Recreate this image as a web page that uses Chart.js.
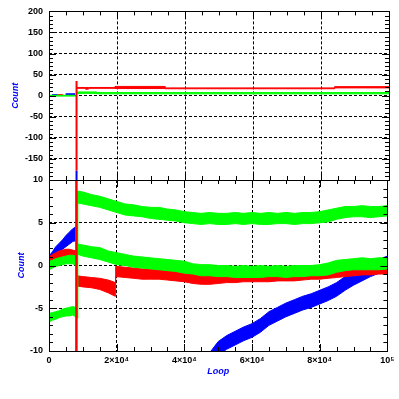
<!DOCTYPE html>
<html>
<head>
<meta charset="utf-8">
<script src="https://cdn.jsdelivr.net/npm/chart.js@4.4.1/dist/chart.umd.min.js"></script>
<style>
  html, body { margin: 0; padding: 0; background: #fff; }
  #wrap { position: relative; width: 399px; height: 399px; }
  canvas { position: absolute; left: 0; top: 0; }
</style>
</head>
<body>
<div id="wrap">
  <canvas id="bottomCanvas" width="399" height="399"></canvas>
  <canvas id="topCanvas" width="399" height="399"></canvas>
</div>
<script>
// x axis
const xTickLabels = ['0', '2×10⁴', '4×10⁴', '6×10⁴', '8×10⁴', '10⁵'];

// ---- top panel (Count, -200..200) ----
const blueTopAX = [900, 2600];
const blueTopALo = [0.5, 0.5];
const blueTopAHi = [2.5, 2.5];
const blueTopBX = [4900, 7700];
const blueTopBLo = [2.5, 2.5];
const blueTopBHi = [4.5, 4.5];
const redTopPreX = [2600, 4200];
const redTopPreLo = [0.5, 0.5];
const redTopPreHi = [2.5, 2.5];
const redTopX = [8200, 10800, 10801, 11600, 11601, 19400, 19401, 34100, 34101, 84000, 84001, 100000];
const redTopLo = [17.5, 17.5, 15.5, 15.5, 17.5, 17.5, 17, 17, 16.5, 16.5, 18.5, 18.5];
const redTopHi = [19.5, 19.5, 19.5, 19.5, 19.5, 19.5, 22, 22, 18.5, 18.5, 21.5, 21.5];
const greenTopPreX = [0, 7900];
const greenTopPreLo = [-1, -1];
const greenTopPreHi = [1, 1];
const greenTopPostX = [8200, 14000, 14001, 100000];
const greenTopPostLo = [5.5, 5.5, 4.5, 4.5];
const greenTopPostHi = [9, 9, 7.5, 7.5];
const spikeX = [8100, 8100];
const redSpikeTopY = [35, -178];
const blueSpikeTopY = [-178, -260];

// ---- bottom panel (Count, -10..10) ----
const preX = [0, 1000, 2000, 3000, 4000, 5000, 6000, 7000, 7900];
const bluePreLo = [0.5, 0.8, 1.1, 1.5, 1.9, 2.2, 2.5, 2.8, 2.9];
const bluePreHi = [1.1, 1.6, 2.2, 2.6, 3.0, 3.5, 3.9, 4.3, 4.5];
const redPreLo = [0.5, 0.6, 0.8, 0.9, 1.0, 1.1, 1.0, 0.9, 0.8];
const redPreHi = [1.0, 1.3, 1.5, 1.7, 1.8, 1.9, 1.9, 1.8, 1.7];
const greenMidPreLo = [-0.5, -0.3, -0.1, 0.0, 0.1, 0.2, 0.2, 0.2, 0.0];
const greenMidPreHi = [0.5, 0.6, 0.8, 0.9, 1.0, 1.1, 1.2, 1.2, 1.1];
const greenLowPreLo = [-6.6, -6.4, -6.3, -6.1, -6.0, -5.9, -5.9, -5.8, -6.0];
const greenLowPreHi = [-5.6, -5.5, -5.4, -5.3, -5.1, -5.0, -4.9, -4.8, -4.9];

const postX = [8550, 10000, 12500, 15000, 17500, 20000, 22500, 25000, 27500, 30000,
  32500, 35000, 37500, 40000, 42500, 45000, 47500, 50000, 52500, 55000,
  57500, 60000, 62500, 65000, 67500, 70000, 72500, 75000, 77500, 80000,
  82500, 85000, 87500, 90000, 92500, 95000, 97500, 100000];
const greenTopLo = [7.3, 7.2, 7.0, 6.8, 6.5, 6.2, 5.9, 5.8, 5.7, 5.5,
  5.4, 5.3, 5.2, 5.0, 4.9, 4.8, 4.9, 4.8, 4.8, 4.9,
  4.8, 4.9, 4.8, 4.8, 4.9, 4.9, 4.8, 4.9, 4.9, 5.0,
  5.1, 5.4, 5.6, 5.7, 5.7, 5.6, 5.7, 5.8];
const greenTopHi = [8.7, 8.6, 8.3, 8.1, 7.8, 7.5, 7.2, 7.1, 6.9, 6.8,
  6.8, 6.6, 6.5, 6.3, 6.2, 6.1, 6.2, 6.1, 6.1, 6.2,
  6.1, 6.2, 6.1, 6.2, 6.1, 6.2, 6.1, 6.2, 6.2, 6.3,
  6.5, 6.7, 6.9, 6.9, 7.0, 6.9, 6.9, 7.0];
const greenMidLo = [1.3, 1.1, 0.9, 0.7, 0.4, 0.1, 0.0, -0.2, -0.3, -0.4,
  -0.5, -0.6, -0.7, -0.9, -1.0, -1.2, -1.2, -1.3, -1.3, -1.4,
  -1.4, -1.4, -1.4, -1.3, -1.3, -1.4, -1.3, -1.3, -1.2, -1.2,
  -1.1, -0.8, -0.6, -0.5, -0.5, -0.5, -0.5, -0.4];
const greenMidHi = [2.5, 2.4, 2.2, 2.1, 1.7, 1.5, 1.3, 1.1, 1.0, 0.9,
  0.8, 0.7, 0.6, 0.5, 0.2, 0.1, 0.1, 0.0, 0.0, -0.1,
  0.0, -0.1, 0.0, -0.1, 0.0, -0.1, 0.0, 0.0, 0.0, 0.1,
  0.3, 0.6, 0.7, 0.8, 0.9, 0.8, 0.9, 0.9];

const redPostX = [8300, 10000, 12500, 15000, 17500, 19600, 19700, 22500, 25000, 27500,
  30000, 32500, 35000, 37500, 40000, 42500, 45000, 47500, 50000, 52500,
  55000, 57500, 60000, 62500, 65000, 67500, 70000, 72500, 75000, 77500,
  80000, 82500, 85000, 87500, 90000, 92500, 95000, 97500, 100000];
const redPostLo = [-2.4, -2.5, -2.6, -2.8, -3.2, -3.6, -1.3, -1.4, -1.5, -1.6,
  -1.6, -1.6, -1.7, -1.8, -1.9, -2.1, -2.2, -2.2, -2.1, -2.0,
  -2.0, -1.9, -1.9, -1.9, -1.9, -1.8, -1.8, -1.8, -1.7, -1.6,
  -1.6, -1.5, -1.4, -1.3, -1.2, -1.1, -1.1, -1.0, -1.0];
const redPostHi = [-1.2, -1.3, -1.4, -1.5, -1.7, -2.0, -0.1, -0.2, -0.3, -0.4,
  -0.4, -0.4, -0.4, -0.5, -0.7, -0.9, -1.0, -1.0, -1.0, -0.9,
  -0.9, -0.9, -0.9, -0.9, -0.9, -0.8, -0.8, -0.8, -0.8, -0.7,
  -0.7, -0.6, -0.5, -0.4, -0.3, -0.3, -0.2, -0.2, -0.2];

const bluePostX = [47500, 50000, 52500, 55000, 57500, 60000, 62500, 65000, 67500, 70000,
  72500, 75000, 77500, 80000, 82500, 85000, 87500, 90000, 92500, 95000,
  97500, 100000];
const bluePostLo = [-11.8, -10.5, -9.8, -9.3, -8.8, -8.4, -7.8, -7.0, -6.5, -6.0,
  -5.6, -5.2, -4.9, -4.5, -4.1, -3.6, -2.9, -2.3, -1.8, -1.3,
  -0.9, -0.5];
const bluePostHi = [-10.2, -8.9, -8.2, -7.7, -7.2, -6.8, -6.2, -5.4, -4.9, -4.4,
  -4.0, -3.6, -3.3, -2.9, -2.5, -2.0, -1.3, -0.7, -0.2, 0.3,
  0.7, 1.1];

const redSpikeBottomY = [40, -40];
const greenSpikeX = [8450, 8450];
const greenSpikeY = [-6.2, 8.7];

const BLUE = '#0000ff', RED = '#ff0000', GREEN = '#00ff00';
const FONT = 'Liberation Sans';

function pts(xs, ys) {
    return xs.map((x, i) => ({x: x, y: ys[i]}));
}

// a noisy trace drawn as its min/max envelope, filled between
function band(xs, lo, hi, color, order) {
    const base = {borderColor: color, backgroundColor: color, borderWidth: 1, pointRadius: 0, order: order};
    return [
        Object.assign({}, base, {data: pts(xs, lo), fill: false}),
        Object.assign({}, base, {data: pts(xs, hi), fill: '-1'})
    ];
}

function spike(xs, ys, color, width, order) {
    return {data: pts(xs, ys), borderColor: color, borderWidth: width, pointRadius: 0, fill: false, order: order};
}

// frame plus inward minor/major tick marks
const frameTicks = {
    id: 'frameTicks',
    afterDraw(chart, args, opts) {
        const {ctx, chartArea: a, scales: {x, y}} = chart;
        ctx.save();
        ctx.strokeStyle = '#000';
        ctx.lineWidth = 1;
        ctx.setLineDash([]);
        ctx.beginPath();
        const nx = Math.round((x.max - x.min) / opts.xMinor);
        for (let i = 0; i <= nx; i++) {
            const v = x.min + i * opts.xMinor;
            const px = Math.round(x.getPixelForValue(v)) + 0.5;
            const len = Math.abs(v % opts.xMajor) < 1e-6 ? 7 : 4;
            ctx.moveTo(px, a.top); ctx.lineTo(px, a.top + len);
            ctx.moveTo(px, a.bottom); ctx.lineTo(px, a.bottom - len);
        }
        const ny = Math.round((y.max - y.min) / opts.yMinor);
        for (let i = 0; i <= ny; i++) {
            const v = y.min + i * opts.yMinor;
            const py = Math.round(y.getPixelForValue(v)) + 0.5;
            const len = Math.abs(v % opts.yMajor) < 1e-6 ? 7 : 4;
            ctx.moveTo(a.left, py); ctx.lineTo(a.left + len, py);
            ctx.moveTo(a.right, py); ctx.lineTo(a.right - len, py);
        }
        ctx.stroke();
        ctx.strokeRect(Math.round(a.left) + 0.5, Math.round(a.top) + 0.5,
            Math.round(a.right - a.left), Math.round(a.bottom - a.top));
        ctx.restore();
    }
};

function makeOptions(cfg) {
    return {
        responsive: false,
        animation: false,
        events: [],
        layout: {padding: cfg.padding},
        plugins: {
            legend: {display: false},
            tooltip: {enabled: false},
            frameTicks: cfg.ticks
        },
        scales: {
            x: {
                type: 'linear',
                min: 0,
                max: 100000,
                afterFit: s => { s.height = cfg.xHeight; },
                border: {display: false, dash: [3, 2]},
                grid: {color: '#000', lineWidth: 1, drawTicks: false},
                ticks: {
                    display: cfg.xLabels,
                    stepSize: 20000,
                    autoSkip: false,
                    maxRotation: 0,
                    padding: 4.5,
                    color: '#000',
                    font: {family: FONT, size: 9, weight: 'bold'},
                    callback: v => xTickLabels[Math.round(v / 20000)]
                },
                title: {
                    display: cfg.xLabels,
                    text: 'Loop',
                    color: BLUE,
                    font: {family: FONT, size: 9, style: 'italic', weight: 'bold'},
                    padding: {top: 0, bottom: 13.6}
                }
            },
            y: {
                min: cfg.yMin,
                max: cfg.yMax,
                afterFit: s => { s.width = 49; },
                border: {display: false, dash: [3, 2]},
                grid: {color: '#000', lineWidth: 1, drawTicks: false},
                ticks: {
                    stepSize: cfg.yStep,
                    autoSkip: false,
                    padding: 6,
                    color: '#000',
                    font: {family: FONT, size: 9, weight: 'bold'},
                    callback: cfg.yLabel
                },
                title: {
                    display: true,
                    text: 'Count',
                    color: BLUE,
                    font: {family: FONT, size: 9, style: 'italic', weight: 'bold'},
                    padding: {top: cfg.titleOffset, bottom: 0}
                }
            }
        }
    };
}

new Chart(document.getElementById('topCanvas'), {
    type: 'line',
    data: {
        datasets: [
            ...band(blueTopAX, blueTopALo, blueTopAHi, BLUE, 3),
            ...band(blueTopBX, blueTopBLo, blueTopBHi, BLUE, 3),
            ...band(redTopPreX, redTopPreLo, redTopPreHi, RED, 2),
            ...band(redTopX, redTopLo, redTopHi, RED, 2),
            ...band(greenTopPreX, greenTopPreLo, greenTopPreHi, GREEN, 1),
            ...band(greenTopPostX, greenTopPostLo, greenTopPostHi, GREEN, 1),
            spike(spikeX, blueSpikeTopY, BLUE, 2, 0),
            spike(spikeX, redSpikeTopY, RED, 2, 0)
        ]
    },
    options: makeOptions({
        padding: {top: 10, right: 10, bottom: 219, left: 0},
        xHeight: 0,
        xLabels: false,
        yMin: -200, yMax: 200, yStep: 50,
        yLabel: v => (v === -200 ? '' : String(v)),
        titleOffset: 10.6,
        ticks: {xMinor: 5000, xMajor: 20000, yMinor: 10, yMajor: 50}
    }),
    plugins: [frameTicks]
});

new Chart(document.getElementById('bottomCanvas'), {
    type: 'line',
    data: {
        datasets: [
            ...band(preX, bluePreLo, bluePreHi, BLUE, 3),
            ...band(bluePostX, bluePostLo, bluePostHi, BLUE, 3),
            ...band(preX, redPreLo, redPreHi, RED, 2),
            ...band(redPostX, redPostLo, redPostHi, RED, 2),
            ...band(preX, greenMidPreLo, greenMidPreHi, GREEN, 1),
            ...band(preX, greenLowPreLo, greenLowPreHi, GREEN, 1),
            ...band(postX, greenTopLo, greenTopHi, GREEN, 1),
            ...band(postX, greenMidLo, greenMidHi, GREEN, 1),
            spike(spikeX, redSpikeBottomY, RED, 2.5, 0),
            spike(greenSpikeX, greenSpikeY, GREEN, 1.5, 0)
        ]
    },
    options: makeOptions({
        padding: {top: 180, right: 10, bottom: 8, left: 0},
        xHeight: 40,
        xLabels: true,
        yMin: -10, yMax: 10, yStep: 5,
        yLabel: v => String(v),
        titleOffset: 16.6,
        ticks: {xMinor: 5000, xMajor: 20000, yMinor: 1, yMajor: 5}
    }),
    plugins: [frameTicks]
});
</script>
</body>
</html>
